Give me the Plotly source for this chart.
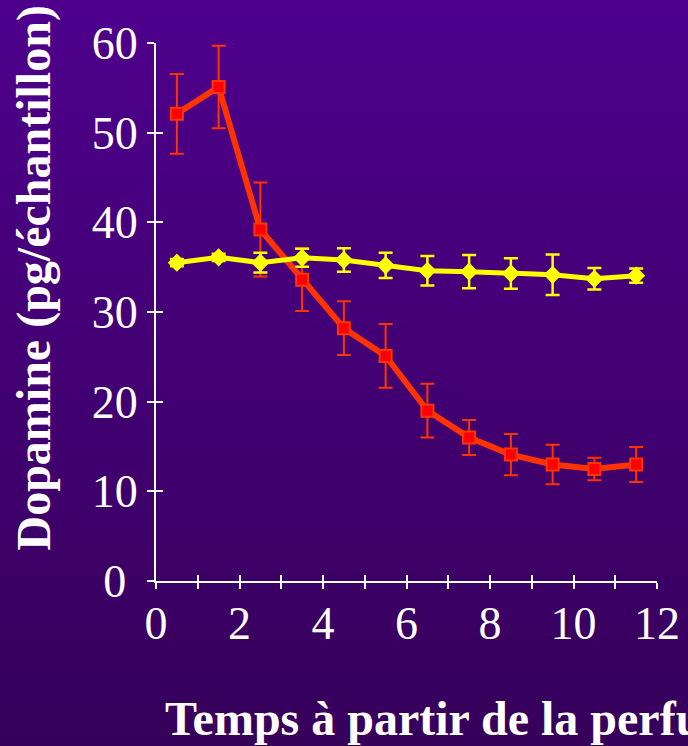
import base64
import struct
import zlib

import plotly.graph_objects as go

# ---------------- data ----------------
time_h = [0.5, 1.5, 2.5, 3.5, 4.5, 5.5, 6.5, 7.5, 8.5, 9.5, 10.5, 11.5]
red_vals = [52.1, 55.1, 39.2, 33.6, 28.2, 25.1, 19.0, 16.0, 14.1, 13.0, 12.5, 13.0]
red_err = [4.45, 4.6, 5.25, 3.5, 3.0, 3.55, 3.0, 1.95, 2.3, 2.2, 1.25, 1.95]
yellow_vals = [35.5, 36.1, 35.5, 36.05, 35.8, 35.2, 34.6, 34.5, 34.3, 34.15, 33.7, 34.05]
yellow_err = [0.4, 0.4, 1.1, 1.0, 1.3, 1.4, 1.65, 1.85, 1.7, 2.25, 1.2, 0.8]

y_tickvals = [0, 10, 20, 30, 40, 50, 60]
y_ticktext = ["0\u00a0", "10", "20", "30", "40", "50", "60"]

y_title = "Dopamine (pg/échantillon)"
x_title = "Temps à partir de la perfusion (h)"

# ---------------- layout geometry ----------------
W, H = 688, 746
ML, MR, MT, MB = 156, 31, 43, 165
PW, PH = W - ML - MR, H - MT - MB

# ---------------- background gradient image ----------------
top_rgb = (78, 0, 140)
bot_rgb = (54, 0, 90)
rows = []
for i in range(H):
    f = i / (H - 1)
    rows.append(bytes(round(a + (b - a) * f) for a, b in zip(top_rgb, bot_rgb)))
raw = b"".join(b"\x00" + r for r in rows)


def _chunk(tag, data):
    return (struct.pack(">I", len(data)) + tag + data
            + struct.pack(">I", zlib.crc32(tag + data) & 0xFFFFFFFF))


png = (b"\x89PNG\r\n\x1a\n"
       + _chunk(b"IHDR", struct.pack(">IIBBBBB", 1, H, 8, 2, 0, 0, 0))
       + _chunk(b"IDAT", zlib.compress(raw))
       + _chunk(b"IEND", b""))
bg_src = "data:image/png;base64," + base64.b64encode(png).decode()

SERIF = "Liberation Serif"

fig = go.Figure()

fig.add_trace(go.Scatter(
    x=time_h, y=red_vals, mode="lines+markers",
    line=dict(color="#FF3300", width=6),
    marker=dict(symbol="square", size=12, color="#FF0000",
                line=dict(color="#FF3300", width=2)),
    error_y=dict(type="data", array=red_err, visible=True,
                 color="#FF3300", thickness=2, width=7),
    showlegend=False,
))

fig.add_trace(go.Scatter(
    x=time_h, y=yellow_vals, mode="lines+markers",
    line=dict(color="#FFFF00", width=5),
    marker=dict(symbol="diamond", size=14, color="#FFFF00"),
    error_y=dict(type="data", array=yellow_err, visible=True,
                 color="#FFFF00", thickness=2.5, width=7),
    showlegend=False,
))

# dummy trace for the overlay axes (inner half of the crossing ticks)
fig.add_trace(go.Scatter(x=[], y=[], xaxis="x2", yaxis="y2",
                         showlegend=False, hoverinfo="skip"))

axis_common = dict(showgrid=False, zeroline=False, tickcolor="white",
                   tickwidth=2)

fig.update_layout(
    width=W, height=H,
    margin=dict(l=ML, r=MR, t=MT, b=MB, autoexpand=False),
    paper_bgcolor="#48007E",
    plot_bgcolor="rgba(0,0,0,0)",
    showlegend=False,
    xaxis=dict(range=[0, 12], showline=True, linecolor="white", linewidth=2,
               ticks="outside", ticklen=6, tick0=0, dtick=2,
               minor=dict(dtick=1, ticks="outside", ticklen=6, tickwidth=2,
                          tickcolor="white"),
               tickfont=dict(family=SERIF, size=46, color="white"),
               ticklabelstandoff=-5, **axis_common),
    yaxis=dict(range=[0, 60], showline=True, linecolor="white", linewidth=2,
               ticks="outside", ticklen=7, tickmode="array",
               tickvals=y_tickvals, ticktext=y_ticktext,
               tickfont=dict(family=SERIF, size=46, color="white"),
               ticklabelstandoff=0, **axis_common),
    xaxis2=dict(range=[0, 12], overlaying="x", anchor="y2", side="bottom",
                ticks="inside", ticklen=6, tick0=0, dtick=1,
                showticklabels=False, showline=False, **axis_common),
    yaxis2=dict(range=[0, 60], overlaying="y", anchor="x2", side="left",
                ticks="inside", ticklen=7, tick0=0, dtick=10,
                showticklabels=False, showline=False, **axis_common),
    images=[dict(source=bg_src, xref="paper", yref="paper",
                 x=-ML / PW, y=1 + MT / PH, sizex=W / PW, sizey=H / PH,
                 xanchor="left", yanchor="top", sizing="stretch",
                 layer="below")],
    annotations=[
        dict(text=y_title, textangle=-90, showarrow=False,
             xref="paper", yref="paper",
             x=(33 - ML) / PW, y=(MT + PH - 278.5) / PH,
             xanchor="center", yanchor="middle",
             font=dict(family=SERIF, size=48, color="white", weight="bold")),
        dict(text=x_title, showarrow=False,
             xref="paper", yref="paper",
             x=(163 - ML) / PW, y=(MT + PH - 719) / PH,
             xanchor="left", yanchor="middle",
             font=dict(family=SERIF, size=48, color="white", weight="bold")),
    ],
)

fig.write_html(
    "out.html",
    config={"displayModeBar": False},
    post_script="document.body.style.margin='0';"
                "document.body.style.overflow='hidden';"
                "document.body.style.background='#36005A';",
)
